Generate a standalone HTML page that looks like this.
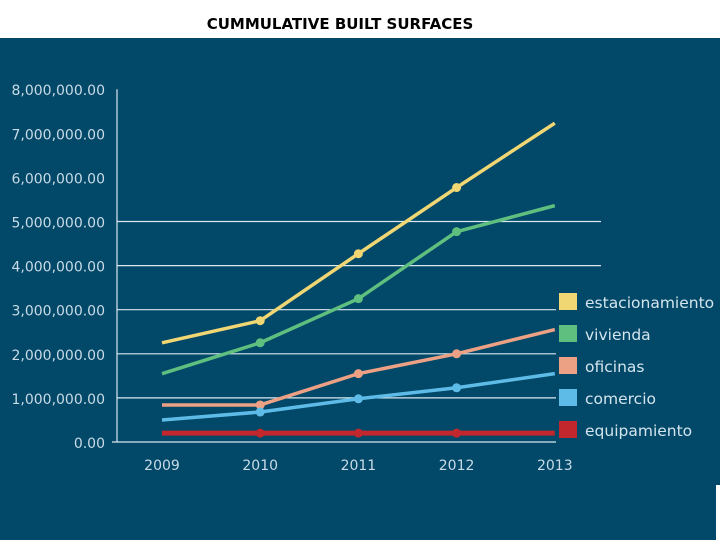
<!DOCTYPE html>
<html><head><meta charset="utf-8"><style>
html,body{margin:0;padding:0;width:720px;height:540px;overflow:hidden;background:#fff}
svg{display:block}
</style></head><body>
<svg id="chart" width="720" height="540" xmlns="http://www.w3.org/2000/svg">
<rect x="0" y="0" width="720" height="38" fill="#ffffff"/>
<text x="340" y="29" text-anchor="middle" font-family="'DejaVu Sans', 'Liberation Sans', sans-serif" font-weight="bold" font-size="15" fill="#000">CUMMULATIVE BUILT SURFACES</text>
<rect x="0" y="38" width="720" height="502" fill="#024868"/>
<rect x="716" y="485" width="4" height="55" fill="#ffffff"/>
<g id="grid"></g><g id="series"></g><g id="legend"></g>
</svg>
<script>
const years = ["2009","2010","2011","2012","2013"];
const yTicks = [0,1,2,3,4,5,6,7,8];
const yTickLabels = ["0.00","1,000,000.00","2,000,000.00","3,000,000.00","4,000,000.00","5,000,000.00","6,000,000.00","7,000,000.00","8,000,000.00"];
const seriesNames = ["estacionamiento","vivienda","oficinas","comercio","equipamiento"];
const estacionamiento = [2.25,2.75,4.27,5.77,7.23];
const vivienda = [1.55,2.25,3.25,4.77,5.36];
const oficinas = [0.84,0.84,1.55,2.0,2.55];
const comercio = [0.5,0.68,0.98,1.23,1.55];
const equipamiento = [0.2,0.2,0.2,0.2,0.2];
const colors = ["#f0d774","#5fbf7f","#eda184","#5ebbe8","#c1272d"];
const NS="http://www.w3.org/2000/svg";
function y(v){return 442-v*44.1;}
function x(i){return 162+i*98.2;}
function mk(t,a,p){const e=document.createElementNS(NS,t);for(const k in a)e.setAttribute(k,a[k]);p.appendChild(e);return e;}
const grid=document.getElementById('grid');
yTicks.forEach((t,i)=>{
  const lbl=mk('text',{x:105,y:y(t)+6,'text-anchor':'end','font-family':"'DejaVu Sans','Liberation Sans',sans-serif",'font-size':14,fill:'#c8dbe6'},grid);
  lbl.textContent=yTickLabels[i];
  
  
  if(t>=1&&t<=5||t===0){
    const x2=(t>=4)?601:556;
    const ln=mk('line',{x1:t===0?112:117,x2:x2,y1:y(t),y2:y(t),stroke:'#d9e8ef','stroke-width':1.2},grid);
    
    
  }
});
const ax=mk('line',{x1:117,x2:117,y1:y(8),y2:y(0),stroke:'#d9e8ef','stroke-width':1.2},grid);


years.forEach((yr,i)=>{
  const t=mk('text',{x:x(i),y:470,'text-anchor':'middle','font-family':"'DejaVu Sans','Liberation Sans',sans-serif",'font-size':14,fill:'#c8dbe6'},grid);
  t.textContent=yr;
  
  
});
const sg=document.getElementById('series');
const allData=[estacionamiento,vivienda,oficinas,comercio,equipamiento];
allData.forEach((d,s)=>{
  const pts=d.map((v,i)=>x(i)+','+y(v)).join(' ');
  const pl=mk('polyline',{points:pts,fill:'none',stroke:colors[s],'stroke-width':s===4?5:3.5,'stroke-linejoin':'round'},sg);
  
  
  d.forEach((v,i)=>{
    if(i>=1&&i<=3){
      const c=mk('circle',{cx:x(i),cy:y(v),r:4.5,fill:colors[s]},sg);
      
      
    }
  });
});
const lg=document.getElementById('legend');
seriesNames.forEach((n,s)=>{
  const ty=293+s*32;
  const r=mk('rect',{x:559,y:ty,width:18,height:17,fill:colors[s]},lg);
  
  
  const t=mk('text',{x:585,y:ty+15,'font-family':"'DejaVu Sans','Liberation Sans',sans-serif",'font-size':15.5,fill:'#d4e5ee'},lg);
  t.textContent=n;
  
  
});
</script>
</body></html>
